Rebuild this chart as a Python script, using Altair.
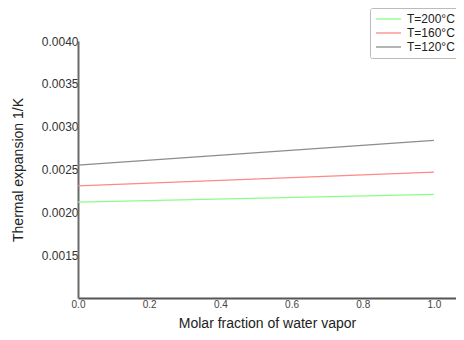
import altair as alt
import pandas as pd

x_vals = [0.0, 1.0]
t200 = [0.00212, 0.00221]
t160 = [0.00231, 0.00247]
t120 = [0.00255, 0.00284]
series_names = ["T=200°C", "T=160°C", "T=120°C"]
series_colors = ["#88ff88", "#ff8888", "#8c8c8c"]
y_ticks = [0.0015, 0.0020, 0.0025, 0.0030, 0.0035, 0.0040]
x_ticks = [0.0, 0.2, 0.4, 0.6, 0.8, 1.0]

rows = []
for name, vals in zip(series_names, [t200, t160, t120]):
    for xv, yv in zip(x_vals, vals):
        rows.append({"x": xv, "y": yv, "series": name})
df = pd.DataFrame(rows)

font = "Liberation Sans"

chart = (
    alt.Chart(df)
    .mark_line(strokeWidth=1.3)
    .encode(
        x=alt.X(
            "x:Q",
            scale=alt.Scale(domain=[0, 1.062], nice=False, zero=False),
            axis=alt.Axis(
                title="Molar fraction of water vapor",
                values=x_ticks,
                format=".1f",
                grid=False,
                ticks=False,
                labelFlush=False,
                domainColor="#555555",
                domainWidth=2,
                labelFontSize=10,
                labelColor="#444444",
                labelPadding=1,
                labelFont=font,
                titleFont=font,
                titleFontSize=14,
                titleFontWeight="normal",
                titleColor="#222222",
                titlePadding=7,
            ),
        ),
        y=alt.Y(
            "y:Q",
            scale=alt.Scale(domain=[0.001, 0.004], nice=False, zero=False),
            axis=alt.Axis(
                title="Thermal expansion 1/K",
                values=y_ticks,
                format=".4f",
                grid=False,
                ticks=False,
                domainColor="#6a6a6a",
                domainWidth=2,
                labelFontSize=12,
                labelColor="#333333",
                labelPadding=0,
                labelFont=font,
                titleFont=font,
                titleFontSize=14,
                titleFontWeight="normal",
                titleColor="#222222",
                titlePadding=16,
            ),
        ),
        color=alt.Color(
            "series:N",
            scale=alt.Scale(domain=series_names, range=series_colors),
            legend=alt.Legend(
                title=None,
                orient="none",
                legendX=292,
                legendY=-33,
                symbolType="M-2.5,0H2.5",
                symbolSize=100,
                symbolOffset=7.5,
                symbolStrokeWidth=1.3,
                labelFont=font,
                labelFontSize=12,
                labelColor="#222222",
                labelOffset=12.5,
                strokeColor="#bbbbbb",
                fillColor="white",
                padding=5,
                cornerRadius=2,
                rowPadding=2,
            ),
        ),
    )
    .properties(
        width=378,
        height=257,
        autosize=alt.AutoSizeParams(type="none"),
        padding={"left": 70, "top": 33, "right": 0, "bottom": 34},
    )
    .configure_view(stroke=None)
)

chart.save("out.html", embed_options={"renderer": "svg", "actions": False})
